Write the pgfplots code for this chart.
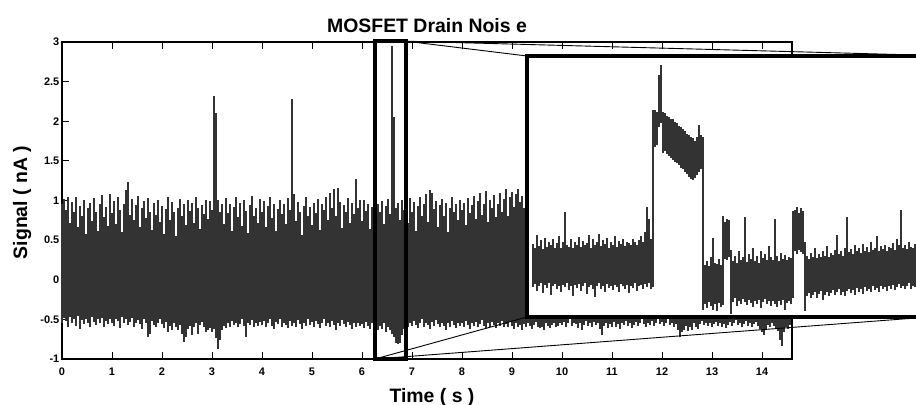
\documentclass[border=0pt]{standalone}
\usepackage{pgfplots}
\pgfplotsset{compat=1.18}
\usepackage{fontspec}
\setmainfont{Liberation Sans}
\definecolor{sig}{RGB}{51,51,51}
\begin{document}
\begin{tikzpicture}
\useasboundingbox (0,0) rectangle (916bp,405bp);
\begin{axis}[name=main, at={(62bp,46bp)}, anchor=south west, scale only axis,
  width=730bp, height=317bp, xmin=0, xmax=14.6, ymin=-1, ymax=3, clip=false,
  xtick={0,1,...,14}, ytick={-1,-0.5,0,0.5,1,1.5,2,2.5,3},
  tick align=inside, major tick length=7bp,
  major tick style={line width=1bp, black},
  axis line style={line width=1.2bp, black},
  /pgf/number format/assume math mode=true,
  ticklabel style={font=\fontsize{11}{12}\selectfont\bfseries, inner sep=1.5bp},
  xticklabel style={yshift=-7bp},
  yticklabel style={xshift=-1bp}]
\addplot[fill=sig, draw=none] table {
x y
0 -0.42
0 0.45
14.56 0.45
14.56 -0.42
};
\addplot[draw=none, mark=none, error bars/.cd, y dir=plus, y explicit, error mark=none,
  error bar style={draw=sig, line width=1.3bp}]
  table[x=t, y=lo, y error expr=\thisrow{hi}-\thisrow{lo}] {
t hi lo
0.00 0.95 -0.55
0.04 1.02 -0.48
0.08 0.88 -0.52
0.12 1.05 -0.60
0.16 0.72 -0.47
0.20 0.98 -0.55
0.24 0.85 -0.50
0.28 1.04 -0.58
0.32 0.66 -0.46
0.36 0.93 -0.62
0.40 0.80 -0.51
0.44 1.00 -0.56
0.48 0.58 -0.49
0.52 0.90 -0.54
0.56 0.97 -0.60
0.60 0.74 -0.47
0.64 1.03 -0.53
0.68 0.86 -0.57
0.72 0.62 -0.50
0.76 0.95 -0.55
0.80 1.07 -0.48
0.84 0.79 -0.59
0.88 0.92 -0.52
0.92 0.68 -0.56
0.96 1.08 -0.50
1.00 0.84 -0.54
1.04 0.99 -0.58
1.08 0.70 -0.49
1.12 1.04 -0.52
1.16 0.88 -0.61
1.20 0.60 -0.47
1.24 0.96 -0.55
1.28 1.13 -0.50
1.32 1.23 -0.57
1.36 0.82 -0.53
1.40 1.02 -0.48
1.44 0.75 -0.59
1.48 0.94 -0.54
1.52 1.06 -0.51
1.56 0.67 -0.56
1.60 0.90 -0.62
1.64 0.99 -0.50
1.68 0.78 -0.55
1.72 1.03 -0.72
1.76 0.86 -0.68
1.80 0.63 -0.52
1.84 0.97 -0.57
1.88 0.82 -0.60
1.92 1.01 -0.54
1.96 0.73 -0.49
2.00 0.93 -0.56
2.04 0.58 -0.61
2.08 0.89 -0.53
2.12 1.05 -0.66
2.16 0.76 -0.58
2.20 0.98 -0.63
2.24 0.85 -0.55
2.28 0.55 -0.60
2.32 0.91 -0.64
2.36 1.02 -0.57
2.40 0.80 -0.69
2.44 0.95 -0.78
2.48 0.69 -0.72
2.52 1.00 -0.62
2.56 0.87 -0.58
2.60 0.97 -0.70
2.64 0.72 -0.60
2.68 1.04 -0.55
2.72 0.90 -0.68
2.76 0.64 -0.57
2.80 0.94 -0.53
2.84 0.83 -0.59
2.88 1.01 -0.66
2.92 0.77 -0.64
2.96 0.99 -0.61
3.00 0.88 -0.66
3.04 2.32 -0.62
3.08 2.10 -0.74
3.12 1.00 -0.88
3.16 0.86 -0.76
3.20 0.95 -0.63
3.24 0.70 -0.58
3.28 1.03 -0.61
3.32 0.84 -0.55
3.36 0.96 -0.59
3.40 0.62 -0.52
3.44 0.92 -0.57
3.48 1.04 -0.54
3.52 0.79 -0.60
3.56 0.97 -0.56
3.60 0.68 -0.49
3.64 1.00 -0.58
3.68 0.87 -0.72
3.72 0.59 -0.54
3.76 0.94 -0.57
3.80 1.06 -0.51
3.84 0.81 -0.60
3.88 0.91 -0.55
3.92 0.72 -0.58
3.96 1.02 -0.53
4.00 0.85 -0.57
4.04 0.99 -0.52
4.08 0.66 -0.60
4.12 0.93 -0.55
4.16 1.05 -0.49
4.20 0.78 -0.58
4.24 0.96 -0.62
4.28 0.61 -0.53
4.32 0.89 -0.56
4.36 1.01 -0.50
4.40 0.83 -0.59
4.44 0.95 -0.54
4.48 0.70 -0.57
4.52 1.03 -0.61
4.56 0.88 -0.52
4.60 2.28 -0.58
4.64 1.08 -0.55
4.68 0.74 -0.60
4.72 0.98 -0.51
4.76 0.86 -0.56
4.80 0.57 -0.62
4.84 0.93 -0.54
4.88 1.04 -0.58
4.92 0.80 -0.50
4.96 0.92 -0.57
5.00 0.69 -0.53
5.04 0.97 -0.59
5.08 0.84 -0.52
5.12 1.02 -0.56
5.16 0.63 -0.61
5.20 0.95 -0.54
5.24 0.88 -0.49
5.28 1.05 -0.58
5.32 0.76 -0.55
5.36 1.10 -0.60
5.40 0.90 -0.52
5.44 1.15 -0.57
5.48 0.81 -0.63
5.52 1.16 -0.55
5.56 0.98 -0.58
5.60 0.65 -0.51
5.64 0.94 -0.56
5.68 0.86 -0.60
5.72 1.03 -0.53
5.76 0.72 -0.57
5.80 0.97 -0.62
5.84 0.83 -0.55
5.88 1.27 -0.59
5.92 0.90 -0.54
5.96 1.00 -0.58
6.00 0.74 -0.56
6.04 1.01 -0.61
6.08 0.87 -0.53
6.12 0.96 -0.58
6.16 0.64 -0.62
6.20 0.92 -0.55
6.24 1.04 -0.60
6.28 0.79 -0.57
6.32 0.95 -0.63
6.36 0.85 -0.58
6.40 0.99 -0.62
6.44 0.70 -0.55
6.48 0.93 -0.66
6.52 1.02 -0.60
6.56 0.83 -0.64
6.60 2.95 -0.68
6.64 2.05 -0.72
6.68 0.90 -0.80
6.72 0.97 -0.81
6.76 0.76 -0.80
6.80 1.00 -0.70
6.84 0.88 -0.62
6.88 0.95 -0.57
6.92 0.71 -0.60
6.96 1.03 -0.54
7.00 0.86 -0.58
7.04 0.98 -0.52
7.08 0.62 -0.57
7.12 0.93 -0.61
7.16 1.05 -0.55
7.20 0.80 -0.50
7.24 0.96 -0.59
7.28 1.08 -0.54
7.32 0.73 -0.57
7.36 1.13 -0.62
7.40 1.10 -0.53
7.44 0.89 -0.58
7.48 0.99 -0.51
7.52 0.67 -0.56
7.56 0.94 -0.60
7.60 1.02 -0.54
7.64 0.81 -0.58
7.68 0.97 -0.63
7.72 0.60 -0.55
7.76 0.91 -0.59
7.80 1.04 -0.52
7.84 0.85 -0.57
7.88 0.95 -0.61
7.92 0.75 -0.55
7.96 1.00 -0.58
8.00 0.88 -0.54
8.04 0.97 -0.59
8.08 0.69 -0.52
8.12 1.03 -0.57
8.16 0.84 -0.62
8.20 0.94 -0.55
8.24 1.06 -0.58
8.28 0.77 -0.53
8.32 0.99 -0.60
8.36 1.09 -0.56
8.40 0.82 -0.51
8.44 0.96 -0.58
8.48 1.12 -0.62
8.52 0.73 -0.55
8.56 1.01 -0.59
8.60 0.90 -0.53
8.64 1.07 -0.57
8.68 0.79 -0.61
8.72 0.95 -0.54
8.76 1.10 -0.58
8.80 0.86 -0.52
8.84 1.02 -0.60
8.88 1.14 -0.56
8.92 0.80 -0.59
8.96 1.05 -0.53
9.00 1.11 -0.58
9.04 0.92 -0.62
9.08 1.08 -0.55
9.12 1.15 -0.60
9.16 0.98 -0.57
9.20 1.06 -0.63
9.24 0.90 -0.56
9.28 1.00 -0.60
9.32 0.85 -0.54
9.36 0.95 -0.58
9.40 0.80 -0.62
9.44 0.92 -0.57
9.48 0.88 -0.53
9.52 0.96 -0.60
9.56 0.83 -0.61
9.60 0.90 -0.59
9.64 0.78 -0.64
9.68 0.94 -0.55
9.72 0.86 -0.58
9.76 0.99 -0.61
9.80 0.81 -0.57
9.84 0.93 -0.54
9.88 0.87 -0.60
9.92 0.97 -0.58
9.96 0.82 -0.55
10.00 0.90 -0.57
10.04 0.85 -0.53
10.08 0.95 -0.59
10.12 0.88 -0.55
10.16 0.92 -0.50
10.20 0.86 -0.58
10.24 0.97 -0.54
10.28 0.83 -0.56
10.32 0.91 -0.61
10.36 0.89 -0.55
10.40 0.94 -0.64
10.44 0.87 -0.57
10.48 0.93 -0.52
10.52 0.84 -0.58
10.56 0.96 -0.55
10.60 0.88 -0.60
10.64 0.92 -0.53
10.68 0.85 -0.57
10.72 0.95 -0.54
10.76 0.90 -0.62
10.80 0.86 -0.70
10.84 0.93 -0.58
10.88 0.89 -0.55
10.92 0.94 -0.61
10.96 0.87 -0.56
11.00 0.92 -0.59
11.04 0.85 -0.53
11.08 0.97 -0.60
11.12 0.88 -0.56
11.16 0.91 -0.62
11.20 0.84 -0.54
11.24 0.95 -0.57
11.28 0.89 -0.52
11.32 0.93 -0.58
11.36 0.86 -0.55
11.40 0.96 -0.61
11.44 0.90 -0.57
11.48 0.87 -0.53
11.52 0.94 -0.58
11.56 0.88 -0.55
11.60 0.92 -0.50
11.64 0.85 -0.56
11.68 0.97 -0.59
11.72 0.89 -0.54
11.76 0.93 -0.57
11.80 0.86 -0.52
11.84 0.95 -0.58
11.88 0.90 -0.55
11.92 0.87 -0.49
11.96 0.94 -0.56
12.00 0.88 -0.53
12.04 0.92 -0.58
12.08 0.85 -0.55
12.12 0.96 -0.50
12.16 0.89 -0.57
12.20 0.93 -0.54
12.24 0.86 -0.59
12.28 0.95 -0.56
12.32 0.90 -0.63
12.36 0.87 -0.72
12.40 0.94 -0.66
12.44 0.88 -0.64
12.48 0.92 -0.58
12.52 0.85 -0.65
12.56 0.97 -0.60
12.60 0.89 -0.64
12.64 0.93 -0.55
12.68 0.86 -0.59
12.72 0.95 -0.62
12.76 0.90 -0.56
12.80 0.87 -0.52
12.84 0.94 -0.57
12.88 0.88 -0.54
12.92 0.92 -0.58
12.96 0.85 -0.55
13.00 0.96 -0.60
13.04 0.89 -0.56
13.08 0.93 -0.53
13.12 0.86 -0.58
13.16 0.95 -0.55
13.20 0.90 -0.59
13.24 0.87 -0.56
13.28 0.94 -0.61
13.32 0.88 -0.57
13.36 0.92 -0.53
13.40 0.85 -0.58
13.44 0.97 -0.55
13.48 0.89 -0.51
13.52 0.93 -0.57
13.56 0.86 -0.54
13.60 0.95 -0.60
13.64 0.90 -0.56
13.68 0.87 -0.52
13.72 0.94 -0.58
13.76 0.88 -0.55
13.80 0.92 -0.59
13.84 0.85 -0.56
13.88 0.96 -0.53
13.92 0.89 -0.58
13.96 0.93 -0.62
14.00 0.86 -0.66
14.04 0.95 -0.70
14.08 0.90 -0.64
14.12 0.87 -0.57
14.16 0.94 -0.60
14.20 0.88 -0.55
14.24 0.92 -0.58
14.28 0.85 -0.61
14.32 0.96 -0.65
14.36 0.89 -0.76
14.40 0.93 -0.83
14.44 0.86 -0.66
14.48 0.95 -0.59
14.52 0.90 -0.62
14.56 0.87 -0.57
};
\draw[line width=3.5bp, black] (axis cs:6.26,-1) rectangle (axis cs:6.88,3.01);
\coordinate (bTR) at (axis cs:6.88,3.01);
\coordinate (bBL) at (axis cs:6.26,-1);
\end{axis}
\begin{axis}[name=ins, at={(527bp,88bp)}, anchor=south west, scale only axis,
  width=389bp, height=261bp, xmin=0, xmax=389, ymin=-0.7, ymax=2.8,
  xtick=\empty, ytick=\empty, axis line style={draw=none},
  axis background/.style={fill=white}]
\addplot[draw=none, mark=none, error bars/.cd, y dir=plus, y explicit, error mark=none,
  error bar style={draw=sig, line width=1.8bp}]
  table[x=x, y=lo, y error expr=\thisrow{hi}-\thisrow{lo}] {
x lo hi
6 -0.30 0.28
8 -0.26 0.22
10 -0.35 0.40
12 -0.28 0.25
14 -0.24 0.33
16 -0.38 0.21
18 -0.27 0.36
20 -0.31 0.24
22 -0.25 0.30
24 -0.40 0.26
26 -0.29 0.34
28 -0.26 0.22
30 -0.33 0.29
32 -0.28 0.38
34 -0.36 0.23
36 -0.27 0.31
38 -0.30 0.71
40 -0.25 0.27
42 -0.34 0.24
44 -0.29 0.35
46 -0.42 0.22
48 -0.27 0.30
50 -0.31 0.26
52 -0.26 0.37
54 -0.35 0.24
56 -0.28 0.32
58 -0.24 0.27
60 -0.39 0.29
62 -0.30 0.40
64 -0.27 0.23
66 -0.33 0.34
68 -0.43 0.26
70 -0.28 0.31
72 -0.25 0.41
74 -0.32 0.25
76 -0.29 0.33
78 -0.37 0.28
80 -0.26 0.36
82 -0.31 0.22
84 -0.28 0.30
86 -0.34 0.27
88 -0.27 0.39
90 -0.30 0.24
92 -0.36 0.32
94 -0.26 0.28
96 -0.29 0.35
98 -0.33 0.25
100 -0.27 0.31
102 -0.38 0.29
104 -0.28 0.26
106 -0.31 0.34
108 -0.25 0.30
110 -0.35 0.27
112 -0.29 0.33
114 -0.27 0.38
116 -0.32 0.30
118 -0.26 0.44
120 -0.30 0.78
122 -0.24 0.62
124 -0.33 0.35
126 -0.30 2.07
128 1.58 2.07
130 1.60 2.05
132 1.85 2.55
134 1.90 2.68
136 1.50 2.05
138 1.52 2.03
140 1.48 2.00
142 1.46 1.98
144 1.43 1.96
146 1.40 1.95
148 1.38 1.92
150 1.36 1.90
152 1.34 1.86
154 1.30 1.85
156 1.28 1.82
158 1.25 1.80
160 1.22 1.76
162 1.18 1.74
164 1.15 1.72
166 1.14 1.70
168 1.17 1.66
170 1.20 1.72
172 1.24 1.87
174 1.28 1.74
176 -0.60 1.71
178 -0.52 0.00
180 -0.58 0.05
182 -0.50 -0.02
184 -0.55 0.10
186 -0.60 0.36
188 -0.53 0.03
190 -0.62 0.01
192 -0.51 0.08
194 -0.56 0.00
196 -0.54 0.65
198 0.08 0.58
200 0.06 0.62
202 0.10 0.60
204 -0.66 0.20
206 -0.50 0.05
208 -0.45 0.12
210 -0.55 0.02
212 -0.48 0.18
214 -0.52 0.06
216 -0.46 0.10
218 -0.50 0.64
220 -0.54 0.04
222 -0.47 0.15
224 -0.51 0.08
226 -0.56 0.22
228 -0.49 0.05
230 -0.53 0.12
232 -0.47 0.03
234 -0.58 0.18
236 -0.50 0.09
238 -0.46 0.14
240 -0.53 0.06
242 -0.49 0.25
244 -0.55 0.10
246 -0.48 0.07
248 -0.52 0.62
250 -0.57 0.12
252 -0.49 0.05
254 -0.54 0.16
256 -0.47 0.08
258 -0.60 0.13
260 -0.51 0.06
262 -0.48 0.11
264 -0.53 0.09
266 -0.45 0.72
268 0.18 0.74
270 0.15 0.78
272 0.20 0.70
274 0.17 0.76
276 0.14 0.72
278 -0.62 0.30
280 -0.42 0.12
282 -0.38 0.08
284 -0.45 0.16
286 -0.40 0.10
288 -0.36 0.22
290 -0.44 0.09
292 -0.39 0.14
294 -0.35 0.11
296 -0.47 0.18
298 -0.40 0.12
300 -0.37 0.25
302 -0.42 0.10
304 -0.38 0.16
306 -0.34 0.13
308 -0.41 0.20
310 -0.37 0.40
312 -0.33 0.15
314 -0.40 0.19
316 -0.36 0.12
318 -0.42 0.22
320 -0.35 0.64
322 -0.32 0.17
324 -0.38 0.21
326 -0.34 0.14
328 -0.40 0.26
330 -0.31 0.18
332 -0.36 0.22
334 -0.33 0.16
336 -0.39 0.28
338 -0.30 0.19
340 -0.35 0.24
342 -0.32 0.17
344 -0.37 0.30
346 -0.29 0.20
348 -0.34 0.23
350 -0.31 0.38
352 -0.36 0.19
354 -0.28 0.25
356 -0.33 0.21
358 -0.30 0.27
360 -0.35 0.18
362 -0.29 0.24
364 -0.32 0.22
366 -0.27 0.29
368 -0.34 0.20
370 -0.30 0.35
372 -0.26 0.26
374 -0.31 0.73
376 -0.28 0.23
378 -0.33 0.27
380 -0.29 0.21
382 -0.25 0.30
384 -0.32 0.24
386 -0.28 0.22
388 -0.30 0.28
};
\end{axis}
\draw[line width=4bp, black] (916bp,349bp) -- (527bp,349bp) -- (527bp,88bp) -- (916bp,88bp);
\draw[line width=0.9bp] (bTR) -- (527bp,349bp);
\draw[line width=0.9bp] (bTR) -- (916bp,350bp);
\draw[line width=0.9bp] (bBL) -- (527bp,88bp);
\draw[line width=0.9bp] (bBL) -- (916bp,87bp);
\node[font=\fontsize{19.5}{22}\selectfont\bfseries] at (427bp,379.5bp) {MOSFET Drain Nois e};
\node[font=\fontsize{19.5}{22}\selectfont\bfseries, anchor=base] at (432bp,2.5bp) {Time ( s )};
\node[font=\fontsize{19.5}{22}\selectfont\bfseries, rotate=90, anchor=base] at (27bp,202.5bp) {Signal ( nA )};
\end{tikzpicture}
\end{document}
